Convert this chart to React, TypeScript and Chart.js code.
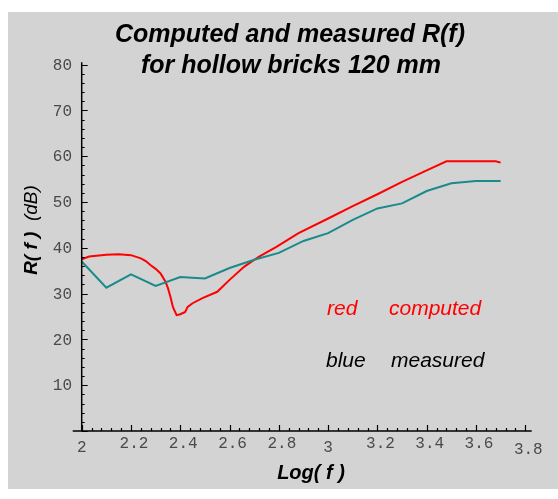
import React, { useEffect, useRef } from "react";
import { Chart, registerables } from "chart.js";
Chart.register(...registerables);

const titleLines = ["Computed and measured R(f)", "for hollow bricks 120 mm"];
const xTitle = "Log( f )";
const yTitleMain = "R( f )";
const yTitleUnit = "(dB)";
const xTickValues = [2, 2.2, 2.4, 2.6, 2.8, 3, 3.2, 3.4, 3.6, 3.8];
const xTickLabels = ["2", "2.2", "2.4", "2.6", "2.8", "3", "3.2", "3.4", "3.6", "3.8"];
const yTickValues = [10, 20, 30, 40, 50, 60, 70, 80];
const yTickLabels = ["10", "20", "30", "40", "50", "60", "70", "80"];
const legendRows = [
  ["red", "computed"],
  ["blue", "measured"],
];

const measuredLogF = [2.0, 2.1, 2.2, 2.3, 2.4, 2.5, 2.6, 2.7, 2.8, 2.9, 3.0, 3.1, 3.2, 3.3, 3.4, 3.5, 3.6, 3.7];
const measuredR = [37.0, 31.3, 34.2, 31.7, 33.6, 33.3, 35.6, 37.4, 38.9, 41.5, 43.2, 46.1, 48.6, 49.7, 52.4, 54.1, 54.6, 54.6];

const computedLogF = [2.0, 2.03, 2.1, 2.15, 2.2, 2.24, 2.26, 2.28, 2.3, 2.32, 2.34, 2.35, 2.36, 2.37, 2.385, 2.4, 2.42, 2.43, 2.45, 2.49, 2.55, 2.6, 2.66, 2.72, 2.79, 2.88, 3.0, 3.1, 3.2, 3.3, 3.4, 3.48, 3.68, 3.7];
const computedR = [37.5, 38.1, 38.5, 38.6, 38.4, 37.7, 37.1, 36.2, 35.4, 34.4, 32.6, 31.2, 29.3, 27.1, 25.3, 25.5, 26.0, 27.1, 27.9, 29.0, 30.4, 33.0, 35.9, 38.1, 40.2, 43.2, 46.4, 49.1, 51.7, 54.4, 56.9, 58.9, 58.9, 58.6];

const W = 558;
const H = 499;

export default function App() {
  const ref = useRef<HTMLCanvasElement | null>(null);
  useEffect(() => {
    if (!ref.current) return;
    const decor = {
      id: "decor",
      beforeDraw(chart: any) {
        const ctx = chart.ctx;
        ctx.save();
        ctx.fillStyle = "#ffffff";
        ctx.fillRect(0, 0, W, H);
        ctx.fillStyle = "#d3d3d3";
        ctx.fillRect(8, 12, W - 8, 477);
        ctx.restore();
      },
      afterDatasetsDraw(chart: any) {
        const ctx = chart.ctx;
        const xs = chart.scales.x;
        const ys = chart.scales.y;
        const x0 = xs.getPixelForValue(2);
        const y0 = ys.getPixelForValue(0);
        ctx.save();
        ctx.strokeStyle = "#000";
        ctx.lineWidth = 1.5;
        ctx.beginPath();
        ctx.moveTo(x0 - 9, y0);
        ctx.lineTo(xs.getPixelForValue(3.826), y0);
        ctx.moveTo(x0, y0);
        ctx.lineTo(x0, ys.getPixelForValue(80.5));
        ctx.stroke();
        ctx.lineWidth = 1.2;
        ctx.beginPath();
        for (let i = 0; i <= 45; i++) {
          const v = 2 + i * 0.04;
          const px = Math.round(xs.getPixelForValue(v)) + 0.5;
          const major = i % 5 === 0;
          ctx.moveTo(px, y0);
          ctx.lineTo(px, y0 - (major ? 6 : 3));
        }
        for (let i = 0; i <= 40; i++) {
          const v = i * 2;
          const py = Math.round(ys.getPixelForValue(v)) + 0.5;
          const major = i % 5 === 0;
          ctx.moveTo(x0, py);
          ctx.lineTo(x0 + (major ? 6 : 3), py);
        }
        ctx.stroke();
        ctx.fillStyle = "#4a4a4a";
        ctx.font = "16px 'Liberation Mono', 'DejaVu Sans Mono', monospace";
        ctx.textAlign = "right";
        ctx.textBaseline = "middle";
        yTickValues.forEach((v, i) => {
          ctx.fillText(yTickLabels[i], 72, ys.getPixelForValue(v) + 1);
        });
        ctx.textAlign = "center";
        xTickValues.forEach((v, i) => {
          const lab = xTickLabels[i];
          const isInt = lab.indexOf(".") < 0;
          const dx = isInt ? 0 : 3;
          let yy = 444;
          if (isInt) yy = 448;
          if (lab === "3.8") yy = 450;
          ctx.fillText(lab, xs.getPixelForValue(v) + dx, yy);
        });
        ctx.fillStyle = "#000";
        ctx.font = "bold italic 20px 'Liberation Sans', Arial, sans-serif";
        ctx.textAlign = "center";
        ctx.textBaseline = "middle";
        ctx.fillText(xTitle, 311, 473);
        ctx.save();
        ctx.translate(32, 230);
        ctx.rotate(-Math.PI / 2);
        ctx.textAlign = "left";
        ctx.font = "bold italic 19px 'Liberation Sans', Arial, sans-serif";
        const wMain = ctx.measureText(yTitleMain + "  ").width;
        ctx.font = "italic 19px 'Liberation Sans', Arial, sans-serif";
        const wUnit = ctx.measureText(yTitleUnit).width;
        const start = -(wMain + wUnit) / 2;
        ctx.font = "bold italic 19px 'Liberation Sans', Arial, sans-serif";
        ctx.fillText(yTitleMain, start, 0);
        ctx.font = "italic 19px 'Liberation Sans', Arial, sans-serif";
        ctx.fillText(yTitleUnit, start + wMain, 0);
        ctx.restore();
        ctx.font = "bold italic 25px 'Liberation Sans', Arial, sans-serif";
        ctx.textAlign = "center";
        ctx.textBaseline = "alphabetic";
        ctx.fillText(titleLines[0], 290, 42);
        ctx.fillText(titleLines[1], 291, 73);
        ctx.font = "italic 21px 'Liberation Sans', Arial, sans-serif";
        ctx.textAlign = "left";
        ctx.fillStyle = "#ff0000";
        ctx.fillText(legendRows[0][0], 327, 315);
        ctx.fillText(legendRows[0][1], 389, 315);
        ctx.fillStyle = "#000";
        ctx.fillText(legendRows[1][0], 326, 367);
        ctx.fillText(legendRows[1][1], 391, 367);
        ctx.restore();
      },
    };
    const chart = new Chart(ref.current, {
      type: "line",
      data: {
        datasets: [
          {
            label: "measured",
            data: measuredLogF.map((x, i) => ({ x, y: measuredR[i] })),
            borderColor: "#1a8a8a",
            borderWidth: 2,
            pointRadius: 0,
            tension: 0,
          },
          {
            label: "computed",
            data: computedLogF.map((x, i) => ({ x, y: computedR[i] })),
            borderColor: "#ff0000",
            borderWidth: 2,
            pointRadius: 0,
            tension: 0,
          },
        ],
      },
      options: {
        animation: false,
        responsive: false,
        devicePixelRatio: 1,
        layout: { padding: { left: 81.7, right: 26.3, top: 62.8, bottom: 68 } },
        plugins: { legend: { display: false }, tooltip: { enabled: false }, title: { display: false } },
        scales: {
          x: { type: "linear", min: 2, max: 3.826, display: false },
          y: { type: "linear", min: 0, max: 80.4, display: false },
        },
      },
      plugins: [decor],
    });
    return () => chart.destroy();
  }, []);
  return (
    <div style={{ position: "fixed", left: 0, top: 0, width: W, height: H }}>
      <canvas ref={ref} width={W} height={H} style={{ display: "block", width: W, height: H }} />
    </div>
  );
}
